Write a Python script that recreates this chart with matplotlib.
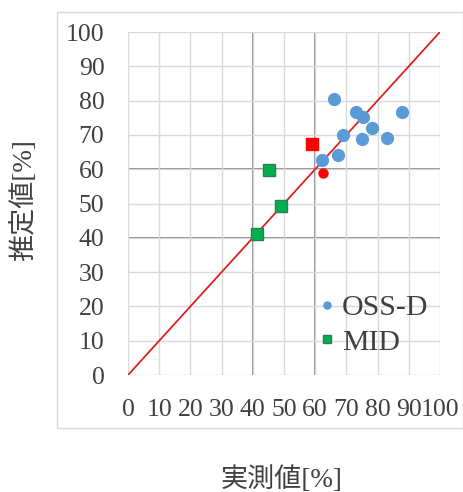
import numpy as np
import matplotlib.pyplot as plt
from matplotlib.patches import Rectangle

# OSS-D (blue circles)
oss_x = [65.9, 73.1, 75.4, 87.9, 78.1, 68.8, 75.0, 82.9, 67.4, 62.2]
oss_y = [80.5, 76.8, 75.1, 76.8, 72.1, 69.9, 68.7, 69.2, 64.3, 62.6]
# MID (green squares)
mid_x = [45.3, 48.9, 41.4]
mid_y = [59.7, 49.2, 41.1]
# highlighted points (red)
red_circle_x = [62.4]
red_circle_y = [59.0]
red_square_x = [59.1]
red_square_y = [67.5]

ticks = np.arange(0, 101, 10)
thresholds = [40, 60]

plt.rcParams["font.family"] = ["Liberation Serif", "Noto Sans CJK JP"]
fig = plt.figure(figsize=(4.64, 4.92), dpi=100)
ax = fig.add_axes([0.276, 0.2378, 0.672, 0.697])

# outer chart frame
fig.patches.append(Rectangle((57/464, 1 - 428/492), (463 - 57)/464, (428 - 12)/492,
                             transform=fig.transFigure, fill=False,
                             edgecolor="#d9d9d9", linewidth=1.0))

ax.set_xlim(0, 100)
ax.set_ylim(0, 100)
ax.set_xticks(ticks)
ax.set_yticks(ticks)
ax.grid(True, color="#d9d9d9", linewidth=1.0, zorder=0)
for t in thresholds:
    ax.axvline(t, color="#7f7f7f", linewidth=1.3, zorder=1)
    ax.axhline(t, color="#7f7f7f", linewidth=1.3, zorder=1)
for s in ax.spines.values():
    s.set_visible(False)
ax.tick_params(length=0, labelsize=18.5, labelcolor="#404040", pad=17)

ax.plot([0, 100], [0, 100], color="#e02020", linewidth=1.3, zorder=2)

ax.plot(oss_x, oss_y, "o", color="#5b9bd5", markersize=8.5, label="OSS-D", zorder=3)
ax.plot(mid_x, mid_y, "s", color="#00b050", markeredgecolor="#2e7d4f",
        markersize=8.5, label="MID", zorder=3)
ax.plot(red_circle_x, red_circle_y, "o", color="#ff0000", markersize=6.5, zorder=3)
ax.plot(red_square_x, red_square_y, "s", color="#ff0000", markersize=8.5, zorder=3)

leg = ax.legend(loc="upper left", bbox_to_anchor=(0.57, 0.27), frameon=False,
                fontsize=21.5, markerscale=0.6, handlelength=0.6, handletextpad=0.2,
                labelspacing=0.25, borderaxespad=0)
for txt in leg.get_texts():
    txt.set_color("#404040")

fig.text(282/464, 1 - 480/492, "実測値[%]", fontsize=19.5, ha="center", va="center",
         color="#404040")
fig.text(24/464, 1 - 200/492, "推定値[%]", fontsize=19.5, ha="center", va="center",
         rotation=90, color="#404040")

plt.savefig("out.png", dpi=100)
